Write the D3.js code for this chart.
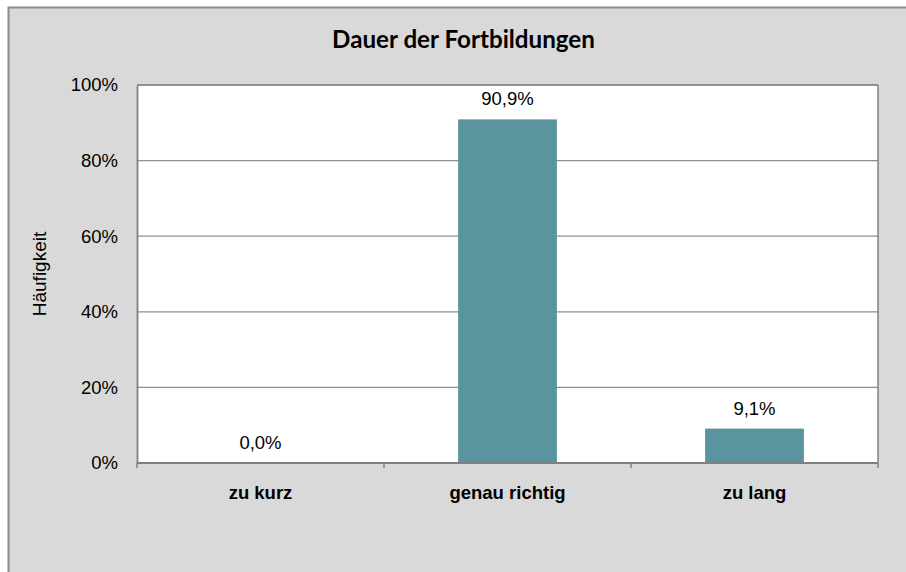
<!DOCTYPE html>
<html><head><meta charset="utf-8">
<script src="https://cdn.jsdelivr.net/npm/d3@7"></script>
<style>html,body{margin:0;padding:0;background:#fff;overflow:hidden}</style>
</head><body>
<script>
const title = "Dauer der Fortbildungen";
const categories = ["zu kurz", "genau richtig", "zu lang"];
const values = [0.0, 90.9, 9.1];
const yTicks = [0, 20, 40, 60, 80, 100];
const yLabel = "Häufigkeit";

const W = 906, H = 572;
const m = {left: 137, top: 85, right: 878, bottom: 463};
const svg = d3.select("body").append("svg").attr("width", W).attr("height", H);

svg.append("rect").attr("x", 8.5).attr("y", 7.5).attr("width", W + 20).attr("height", H + 20)
  .attr("fill", "#d9d9d9").attr("stroke", "#8c8c8c").attr("stroke-width", 2);

const x = d3.scaleBand().domain(categories).range([m.left, m.right]).padding(0);
const y = d3.scaleLinear().domain([0, 100]).range([m.bottom, m.top]);

svg.append("rect").attr("x", m.left).attr("y", m.top)
  .attr("width", m.right - m.left).attr("height", m.bottom - m.top).attr("fill", "#fff");

// gridlines
svg.append("g").selectAll("line").data(yTicks.filter(d => d > 0)).join("line")
  .attr("x1", m.left).attr("x2", m.right).attr("y1", d => y(d)).attr("y2", d => y(d))
  .attr("stroke", "#8f8f8f").attr("stroke-width", 1.2);

// bars
const bw = x.bandwidth() * 0.4;
svg.append("g").selectAll("rect").data(values).join("rect")
  .attr("x", (d, i) => x(categories[i]) + (x.bandwidth() - bw) / 2)
  .attr("width", bw)
  .attr("y", d => y(d)).attr("height", d => y(0) - y(d))
  .attr("fill", "#5a949f");

// plot border (right) and axes
svg.append("line").attr("x1", m.right).attr("x2", m.right).attr("y1", m.top).attr("y2", m.bottom)
  .attr("stroke", "#808080").attr("stroke-width", 1.5);
svg.append("line").attr("x1", m.left).attr("x2", m.right).attr("y1", m.top).attr("y2", m.top)
  .attr("stroke", "#808080").attr("stroke-width", 1.5);

const yAxis = svg.append("g").attr("transform", `translate(${m.left},0)`)
  .call(d3.axisLeft(y).tickValues(yTicks).tickSize(0).tickPadding(19).tickFormat(d => d + "%"));
yAxis.select(".domain").attr("stroke", "#808080").attr("stroke-width", 1.8);
yAxis.selectAll("text").attr("font-family", "Liberation Sans, Arial, sans-serif")
  .attr("font-size", 18.5).attr("fill", "#000");

const xAxis = svg.append("g").attr("transform", `translate(0,${m.bottom})`)
  .call(d3.axisBottom(x).tickSize(0).tickFormat(""));
xAxis.select(".domain").remove();
svg.append("line").attr("x1", m.left).attr("x2", m.right).attr("y1", m.bottom).attr("y2", m.bottom)
  .attr("stroke", "#808080").attr("stroke-width", 1.8);
const bounds = categories.map(c => x(c)).concat([m.right]);
svg.append("g").selectAll("line").data(bounds).join("line")
  .attr("x1", d => d).attr("x2", d => d).attr("y1", m.bottom).attr("y2", m.bottom + 5)
  .attr("stroke", "#808080").attr("stroke-width", 1.5);

// category labels
svg.append("g").selectAll("text").data(categories).join("text")
  .attr("x", d => x(d) + x.bandwidth() / 2).attr("y", 499)
  .attr("text-anchor", "middle").attr("font-family", "Liberation Sans, Arial, sans-serif")
  .attr("font-weight", "bold").attr("font-size", 18.5).text(d => d);

// value labels
svg.append("g").selectAll("text").data(values).join("text")
  .attr("x", (d, i) => x(categories[i]) + x.bandwidth() / 2)
  .attr("y", d => y(d) - 14)
  .attr("text-anchor", "middle").attr("font-family", "Liberation Sans, Arial, sans-serif")
  .attr("font-size", 18.5).text(d => d.toFixed(1).replace(".", ",") + "%");

// y axis title
svg.append("text").attr("transform", `translate(46,${(m.top + m.bottom) / 2}) rotate(-90)`)
  .attr("text-anchor", "middle").attr("font-family", "Liberation Sans, Arial, sans-serif")
  .attr("font-size", 19).text(yLabel);

// title
const t = svg.append("text").attr("x", 463.5).attr("y", 48).attr("text-anchor", "middle")
  .attr("font-family", "Lato, 'Open Sans', sans-serif").attr("font-weight", "bold")
  .attr("font-size", 22).text(title);
const len = t.node().getComputedTextLength();
t.attr("font-size", 22 * 263 / len);
</script>
</body></html>
